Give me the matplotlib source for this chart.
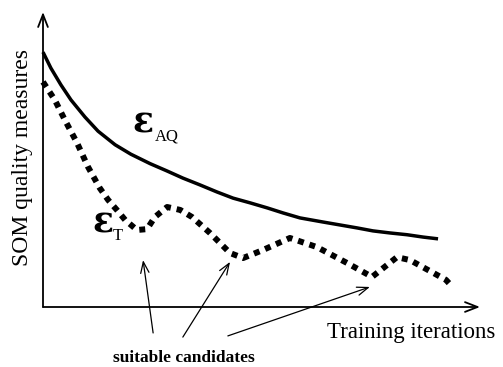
import matplotlib
matplotlib.use("Agg")
import matplotlib.pyplot as plt

# Average quantization error (smooth decay)
aq_x = [0.0, 1.8, 4.1, 6.4, 9.6, 12.6, 16.5, 20.1, 24.5, 28.4, 32.0, 35.9, 39.8, 43.5,
        47.4, 51.3, 54.9, 58.8, 64.1, 68.0, 71.9, 75.5, 79.4, 83.3, 87.0, 90.4]
aq_y = [86.4, 81.0, 75.3, 70.2, 64.4, 59.6, 55.0, 51.8, 48.6, 46.1, 43.7, 41.4, 39.0, 36.9,
        35.3, 33.6, 31.9, 30.2, 28.8, 27.8, 26.8, 25.8, 25.1, 24.5, 23.7, 23.1]

# Topographic error (oscillating decay)
t_x = [0.0, 2.7, 5.0, 7.8, 10.3, 13.0, 14.9, 16.9, 18.8, 21.5, 23.8, 25.6, 28.4, 31.4, 34.1,
       38.2, 42.8, 45.8, 50.3, 56.5, 62.7, 69.6, 75.3, 81.0, 84.0, 92.2, 93.7]
t_y = [76.3, 70.2, 63.4, 55.6, 47.5, 40.3, 36.3, 32.9, 29.5, 26.1, 26.4, 30.5, 33.9, 32.9, 30.5,
       25.1, 18.3, 16.6, 19.3, 23.4, 20.3, 14.9, 10.2, 16.9, 15.9, 9.2, 6.8]

# Local minima of the topographic error marked as candidates
cand_x = [22.9, 42.8, 74.8]
cand_y = [15.9, 15.3, 6.8]
cand_tail_x = [25.2, 32.0, 42.3]
cand_tail_y = [-8.8, -10.2, -9.8]

xlabel = "Training iterations"
ylabel = "SOM quality measures"
note = "suitable candidates"

serif = "Liberation Serif"

fig = plt.figure(figsize=(5.03, 3.67), dpi=100)
ax = fig.add_axes([43 / 503, 60 / 367, 437 / 503, 295 / 367])
ax.set_xlim(0, 100)
ax.set_ylim(0, 100)
ax.axis("off")

# Axes drawn as arrows
axis_arrow = dict(arrowstyle="->,head_length=0.9,head_width=0.35", lw=1.3, color="black",
                  shrinkA=0, shrinkB=0)
ax.annotate("", xy=(100, 0), xytext=(0, 0), arrowprops=axis_arrow)
ax.annotate("", xy=(0, 100), xytext=(0, 0), arrowprops=axis_arrow)

ax.plot(aq_x, aq_y, color="black", lw=2.5, solid_capstyle="butt",
        solid_joinstyle="round", clip_on=False)
ax.plot(t_x, t_y, color="black", lw=4.3, linestyle=(0, (1.0, 1.0)),
        dash_capstyle="butt", clip_on=False)

for tx, ty, hx, hy in zip(cand_tail_x, cand_tail_y, cand_x, cand_y):
    ax.annotate("", xy=(hx, hy), xytext=(tx, ty), annotation_clip=False,
                arrowprops=dict(arrowstyle="->,head_length=0.8,head_width=0.3", lw=0.9,
                                color="black", shrinkA=0, shrinkB=0))

ax.text(-4.6, 50.8, ylabel, rotation=90, ha="center", va="center",
        fontsize=17, family=serif, clip_on=False)
ax.text(84.2, -8.8, xlabel, ha="center", va="center",
        fontsize=16.5, family=serif, clip_on=False)
ax.text(32.3, -17.3, note, ha="center", va="center",
        fontsize=12.5, family=serif, fontweight="bold", clip_on=False)

ax.text(20.4, 59.0, "ε", ha="left", va="baseline", fontsize=25,
        family="DejaVu Serif", fontweight="bold")
ax.text(25.6, 56.4, "AQ", ha="left", va="baseline", fontsize=12, family=serif)
ax.text(11.3, 25.4, "ε", ha="left", va="baseline", fontsize=25,
        family="DejaVu Serif", fontweight="bold")
ax.text(16.0, 22.6, "T", ha="left", va="baseline", fontsize=12, family=serif)

fig.savefig("out.png", dpi=100)
